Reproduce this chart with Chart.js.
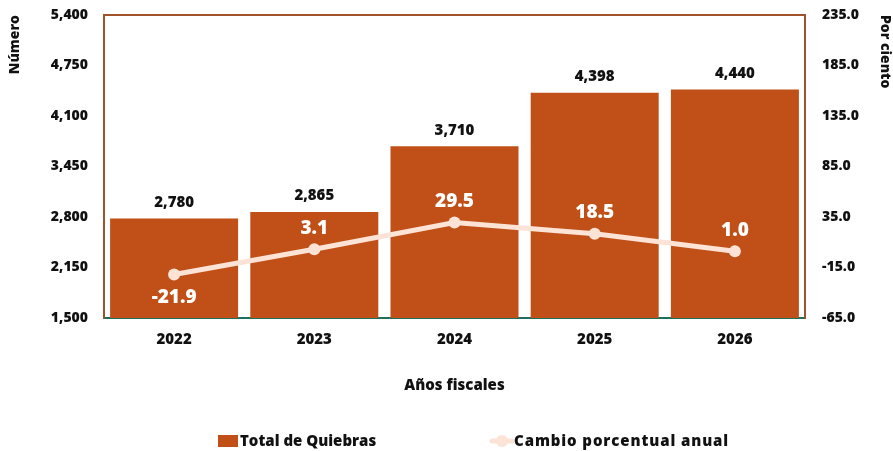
<!DOCTYPE html>
<html lang="es">
<head>
<meta charset="utf-8">
<title>Total de Quiebras</title>
<script src="https://cdn.jsdelivr.net/npm/chart.js@4/dist/chart.umd.min.js"></script>
<style>
  html, body { margin: 0; padding: 0; background: #ffffff; }
  #wrap { width: 893px; height: 451px; }
</style>
</head>
<body>
<div id="wrap"><canvas id="chart" width="893" height="451"></canvas></div>
<script>
// Fiscal years and series
const years = ['2022', '2023', '2024', '2025', '2026'];
const totalQuiebras = [2780, 2865, 3710, 4398, 4440];
const cambioPorcentual = [-21.9, 3.1, 29.5, 18.5, 1.0];

// Axis tick values
const leftTicks = [1500, 2150, 2800, 3450, 4100, 4750, 5400];
const rightTicks = [-65, -15, 35, 85, 135, 185, 235];

const FONT = '"Open Sans", Inter, sans-serif';
const BAR_COLOR = '#C05017';
const LINE_COLOR = '#FCE3D6';
const FRAME_COLOR = '#A0522D';
const BASE_COLOR = '#1F6F5F';
const TEXT_COLOR = '#111111';

// Keep the vertical axes from padding the plot top/bottom by their tick spacing
function trimVertical(width) {
  return scale => {
    scale.paddingTop = 8;
    scale.paddingBottom = 8;
    scale.width = width;
  };
}

// Value labels over bars and line points, top frame line, and legend
const decorations = {
  id: 'decorations',
  beforeDatasetsDraw(chart) {
    const { ctx, chartArea } = chart;
    ctx.save();
    ctx.strokeStyle = FRAME_COLOR;
    ctx.lineWidth = 2;
    ctx.beginPath();
    ctx.moveTo(chartArea.left, chartArea.top);
    ctx.lineTo(chartArea.right, chartArea.top);
    ctx.stroke();
    ctx.restore();
  },
  afterDatasetsDraw(chart) {
    const { ctx } = chart;
    ctx.save();
    ctx.textAlign = 'center';
    ctx.textBaseline = 'middle';

    // bar values
    const barMeta = chart.getDatasetMeta(0);
    ctx.fillStyle = TEXT_COLOR;
    ctx.font = '800 15px ' + FONT;
    barMeta.data.forEach((bar, i) => {
      ctx.fillText(totalQuiebras[i].toLocaleString('en-US'), bar.x, bar.y - 16);
    });

    // percent change values
    const lineMeta = chart.getDatasetMeta(1);
    ctx.fillStyle = '#ffffff';
    ctx.font = '800 19px ' + FONT;
    lineMeta.data.forEach((pt, i) => {
      const v = cambioPorcentual[i];
      const dy = v < 0 ? 23 : -21;
      ctx.fillText(v.toFixed(1), pt.x, pt.y + dy);
    });

    // legend
    const ly = 441;
    ctx.textAlign = 'left';
    ctx.font = '800 15px ' + FONT;
    ctx.fillStyle = BAR_COLOR;
    ctx.fillRect(218, ly - 6, 20, 12);
    ctx.fillStyle = TEXT_COLOR;
    ctx.fillText('Total de Quiebras', 240, ly + 1);

    ctx.strokeStyle = LINE_COLOR;
    ctx.lineWidth = 5;
    ctx.lineCap = 'round';
    ctx.beginPath();
    ctx.moveTo(492, ly);
    ctx.lineTo(512, ly);
    ctx.stroke();
    ctx.fillStyle = LINE_COLOR;
    ctx.beginPath();
    ctx.arc(502, ly, 6, 0, Math.PI * 2);
    ctx.fill();
    ctx.fillStyle = TEXT_COLOR;
    if ('letterSpacing' in ctx) ctx.letterSpacing = '0.9px';
    ctx.fillText('Cambio porcentual anual', 514, ly + 1);
    ctx.restore();
  }
};

new Chart(document.getElementById('chart'), {
  data: {
    labels: years,
    datasets: [
      {
        type: 'bar',
        label: 'Total de Quiebras',
        data: totalQuiebras,
        backgroundColor: BAR_COLOR,
        barPercentage: 0.913,
        categoryPercentage: 1.0,
        yAxisID: 'y',
        order: 2
      },
      {
        type: 'line',
        label: 'Cambio porcentual anual',
        data: cambioPorcentual,
        borderColor: LINE_COLOR,
        backgroundColor: LINE_COLOR,
        borderWidth: 5,
        pointRadius: 6,
        pointBackgroundColor: LINE_COLOR,
        pointBorderWidth: 0,
        tension: 0,
        yAxisID: 'y1',
        order: 1
      }
    ]
  },
  options: {
    responsive: false,
    animation: false,
    layout: { padding: { left: 7, right: 0, top: 15, bottom: 56 } },
    plugins: {
      legend: { display: false },
      tooltip: { enabled: false }
    },
    scales: {
      x: {
        grid: { display: false, drawTicks: false },
        border: { color: BASE_COLOR, width: 2 },
        ticks: { color: TEXT_COLOR, font: { family: FONT, size: 15, weight: '800' }, padding: 13 },
        title: {
          display: true,
          text: 'Años fiscales',
          color: TEXT_COLOR,
          font: { family: FONT, size: 15, weight: '800' },
          padding: { top: 15, bottom: 0 }
        }
      },
      y: {
        position: 'left',
        min: 1500,
        max: 5400,
        afterBuildTicks(scale) { scale.ticks = leftTicks.map(v => ({ value: v })); },
        afterFit: trimVertical(97),
        grid: { display: false, drawTicks: false },
        border: { color: FRAME_COLOR, width: 2 },
        ticks: {
          color: TEXT_COLOR,
          font: { family: FONT, size: 14, weight: '800' },
          padding: 16,
          callback: v => v.toLocaleString('en-US')
        },
        title: {
          display: true,
          text: 'Número',
          align: 'end',
          color: TEXT_COLOR,
          font: { family: FONT, size: 14, weight: '800' },
          padding: { top: 0, bottom: 10 }
        }
      },
      y1: {
        position: 'right',
        min: -65,
        max: 235,
        afterBuildTicks(scale) { scale.ticks = rightTicks.map(v => ({ value: v })); },
        afterFit: trimVertical(88),
        grid: { display: false, drawTicks: false },
        border: { color: FRAME_COLOR, width: 2 },
        ticks: {
          color: TEXT_COLOR,
          font: { family: FONT, size: 14, weight: '800' },
          padding: 17,
          callback: v => v.toFixed(1)
        },
        title: {
          display: true,
          text: 'Por ciento',
          align: 'end',
          color: TEXT_COLOR,
          font: { family: FONT, size: 14, weight: '800' },
          padding: { top: 0, bottom: 0 }
        }
      }
    }
  },
  plugins: [decorations]
});
</script>
</body>
</html>
